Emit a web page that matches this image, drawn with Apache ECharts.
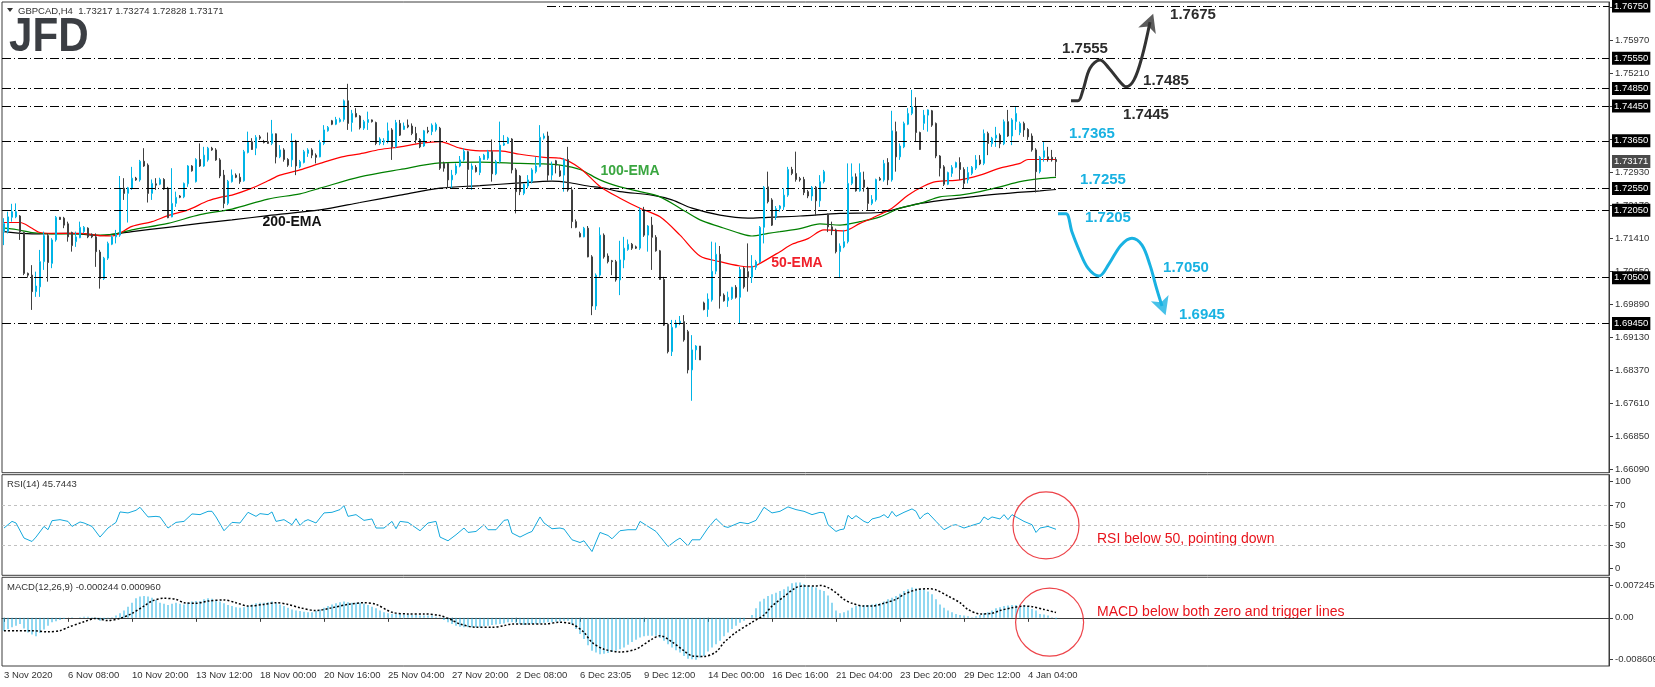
<!DOCTYPE html>
<html><head><meta charset="utf-8">
<script src="https://cdn.jsdelivr.net/npm/echarts/dist/echarts.min.js"></script>
<style>html,body{margin:0;padding:0;background:#fff}#c{width:1655px;height:687px}</style>
</head><body><div id="c"></div>
<script>
// ---- DATA ----
// candles: [open, close, low, high], one per H4 bar
const candles = [
[1.7156,1.7175,1.7125,1.7187],[1.7156,1.7190,1.7152,1.7202],[1.7189,1.7202,1.7179,1.7220],[1.7190,1.7202,1.7187,1.7221],[1.7192,1.7156,1.7137,1.7194],
[1.7154,1.7060,1.7056,1.7156],[1.7060,1.7056,1.7050,1.7062],[1.7056,1.7018,1.6976,1.7079],[1.7018,1.7031,1.7006,1.7064],[1.7029,1.7087,1.7006,1.7114],
[1.7087,1.7147,1.7068,1.7156],[1.7147,1.7085,1.7041,1.7152],[1.7083,1.7137,1.7072,1.7141],[1.7137,1.7189,1.7133,1.7192],[1.7189,1.7184,1.7183,1.7190],
[1.7187,1.7171,1.7164,1.7190],[1.7174,1.7144,1.7133,1.7179],[1.7154,1.7124,1.7110,1.7156],[1.7133,1.7144,1.7121,1.7156],[1.7142,1.7166,1.7141,1.7179],
[1.7156,1.7166,1.7152,1.7169],[1.7164,1.7144,1.7141,1.7166],[1.7150,1.7144,1.7141,1.7152],[1.7144,1.7110,1.7075,1.7152],[1.7109,1.7048,1.7025,1.7114],
[1.7048,1.7095,1.7045,1.7098],[1.7095,1.7129,1.7091,1.7133],[1.7127,1.7144,1.7125,1.7148],[1.7144,1.7150,1.7129,1.7160],[1.7148,1.7256,1.7144,1.7284],
[1.7256,1.7244,1.7229,1.7279],[1.7244,1.7257,1.7177,1.7259],[1.7256,1.7279,1.7252,1.7305],[1.7279,1.7275,1.7273,1.7282],[1.7275,1.7318,1.7271,1.7321],
[1.7318,1.7307,1.7305,1.7348],[1.7309,1.7244,1.7223,1.7313],[1.7244,1.7267,1.7229,1.7276],[1.7266,1.7263,1.7252,1.7279],[1.7265,1.7276,1.7263,1.7280],
[1.7276,1.7254,1.7252,1.7279],[1.7256,1.7188,1.7187,1.7259],[1.7190,1.7221,1.7189,1.7302],[1.7221,1.7235,1.7213,1.7248],[1.7238,1.7235,1.7233,1.7240],
[1.7236,1.7267,1.7233,1.7269],[1.7266,1.7307,1.7259,1.7309],[1.7307,1.7296,1.7294,1.7309],[1.7271,1.7322,1.7269,1.7325],[1.7322,1.7307,1.7305,1.7359],
[1.7307,1.7332,1.7305,1.7351],[1.7321,1.7348,1.7317,1.7351],[1.7348,1.7344,1.7342,1.7351],[1.7344,1.7321,1.7319,1.7348],[1.7321,1.7284,1.7279,1.7325],
[1.7286,1.7221,1.7210,1.7298],[1.7221,1.7272,1.7217,1.7275],[1.7271,1.7286,1.7269,1.7299],[1.7286,1.7281,1.7279,1.7290],[1.7281,1.7271,1.7266,1.7290],
[1.7273,1.7340,1.7271,1.7344],[1.7338,1.7363,1.7336,1.7386],[1.7363,1.7345,1.7344,1.7371],[1.7348,1.7373,1.7332,1.7378],[1.7374,1.7371,1.7367,1.7378],
[1.7363,1.7361,1.7359,1.7367],[1.7363,1.7359,1.7358,1.7384],[1.7359,1.7381,1.7355,1.7413],[1.7381,1.7328,1.7313,1.7382],[1.7328,1.7344,1.7325,1.7355],
[1.7344,1.7322,1.7317,1.7348],[1.7322,1.7309,1.7305,1.7325],[1.7321,1.7364,1.7305,1.7382],[1.7364,1.7307,1.7286,1.7367],[1.7305,1.7317,1.7302,1.7321],
[1.7315,1.7340,1.7313,1.7344],[1.7336,1.7344,1.7328,1.7348],[1.7344,1.7332,1.7325,1.7348],[1.7332,1.7327,1.7313,1.7336],[1.7328,1.7361,1.7327,1.7367],
[1.7359,1.7390,1.7355,1.7401],[1.7388,1.7396,1.7386,1.7399],[1.7411,1.7403,1.7401,1.7413],[1.7403,1.7414,1.7401,1.7420],[1.7409,1.7414,1.7407,1.7418],
[1.7414,1.7457,1.7409,1.7460],[1.7457,1.7405,1.7390,1.7496],[1.7407,1.7428,1.7386,1.7436],[1.7428,1.7420,1.7419,1.7440],[1.7422,1.7395,1.7391,1.7424],
[1.7394,1.7409,1.7390,1.7413],[1.7407,1.7414,1.7390,1.7432],[1.7413,1.7409,1.7407,1.7414],[1.7407,1.7359,1.7355,1.7409],[1.7359,1.7369,1.7355,1.7373],
[1.7362,1.7365,1.7355,1.7371],[1.7363,1.7388,1.7359,1.7407],[1.7390,1.7351,1.7321,1.7394],[1.7351,1.7407,1.7348,1.7413],[1.7405,1.7378,1.7376,1.7413],
[1.7391,1.7399,1.7390,1.7407],[1.7401,1.7397,1.7394,1.7414],[1.7399,1.7382,1.7378,1.7405],[1.7382,1.7367,1.7359,1.7397],[1.7368,1.7351,1.7348,1.7371],
[1.7353,1.7388,1.7351,1.7390],[1.7388,1.7386,1.7382,1.7397],[1.7386,1.7401,1.7378,1.7405],[1.7390,1.7403,1.7386,1.7407],[1.7394,1.7302,1.7298,1.7397],
[1.7313,1.7302,1.7294,1.7317],[1.7313,1.7275,1.7256,1.7315],[1.7275,1.7286,1.7256,1.7298],[1.7290,1.7307,1.7286,1.7313],[1.7307,1.7321,1.7304,1.7330],
[1.7321,1.7341,1.7317,1.7348],[1.7340,1.7299,1.7256,1.7342],[1.7299,1.7307,1.7252,1.7313],[1.7304,1.7294,1.7292,1.7309],[1.7292,1.7325,1.7286,1.7330],
[1.7322,1.7332,1.7321,1.7335],[1.7325,1.7340,1.7321,1.7344],[1.7340,1.7289,1.7271,1.7368],[1.7289,1.7317,1.7286,1.7321],[1.7317,1.7355,1.7313,1.7409],
[1.7355,1.7359,1.7353,1.7378],[1.7359,1.7371,1.7358,1.7374],[1.7369,1.7298,1.7290,1.7371],[1.7298,1.7248,1.7198,1.7302],[1.7284,1.7248,1.7240,1.7286],
[1.7244,1.7265,1.7240,1.7267],[1.7261,1.7275,1.7256,1.7286],[1.7271,1.7298,1.7267,1.7302],[1.7294,1.7307,1.7290,1.7328],[1.7306,1.7373,1.7304,1.7401],
[1.7371,1.7376,1.7368,1.7382],[1.7376,1.7286,1.7273,1.7386],[1.7286,1.7309,1.7275,1.7317],[1.7319,1.7309,1.7290,1.7321],[1.7296,1.7284,1.7282,1.7309],
[1.7286,1.7322,1.7248,1.7325],[1.7322,1.7252,1.7248,1.7351],[1.7252,1.7179,1.7164,1.7259],[1.7179,1.7166,1.7164,1.7184],[1.7152,1.7144,1.7143,1.7156],
[1.7144,1.7164,1.7143,1.7167],[1.7164,1.7098,1.7097,1.7169],[1.7098,1.6985,1.6964,1.7102],[1.6985,1.7056,1.6976,1.7060],[1.7056,1.7148,1.7052,1.7166],
[1.7148,1.7098,1.7094,1.7152],[1.7100,1.7087,1.7083,1.7106],[1.7089,1.7087,1.7056,1.7091],[1.7087,1.7045,1.7041,1.7091],[1.7045,1.7091,1.7010,1.7135],
[1.7091,1.7118,1.7072,1.7144],[1.7115,1.7127,1.7112,1.7138],[1.7127,1.7118,1.7114,1.7130],[1.7121,1.7118,1.7116,1.7124],[1.7118,1.7206,1.7114,1.7212],
[1.7206,1.7148,1.7144,1.7213],[1.7148,1.7169,1.7110,1.7171],[1.7171,1.7143,1.7068,1.7190],[1.7143,1.7112,1.7110,1.7148],[1.7112,1.7046,1.7045,1.7114],
[1.7046,1.6941,1.6939,1.7052],[1.6943,1.6880,1.6876,1.6946],[1.6880,1.6936,1.6870,1.6953],[1.6936,1.6946,1.6934,1.6953],[1.6945,1.6950,1.6941,1.6962],
[1.6949,1.6907,1.6903,1.6964],[1.6926,1.6838,1.6830,1.6930],[1.6838,1.6884,1.6767,1.6918],[1.6884,1.6893,1.6861,1.6895],[1.6893,1.6861,1.6861,1.6893],
[1.6992,1.6977,1.6975,1.6995],[1.6977,1.7001,1.6960,1.7014],[1.6999,1.7065,1.6995,1.7133],[1.7065,1.7104,1.7058,1.7131],[1.7104,1.7008,1.6979,1.7123],
[1.7010,1.6997,1.6995,1.7014],[1.6997,1.7005,1.6983,1.7018],[1.7002,1.7028,1.6999,1.7029],[1.7028,1.7005,1.7002,1.7033],[1.7005,1.7069,1.6945,1.7075],
[1.7072,1.7029,1.7025,1.7075],[1.7064,1.7051,1.7018,1.7129],[1.7051,1.7077,1.7038,1.7102],[1.7074,1.7087,1.7068,1.7091],[1.7087,1.7166,1.7083,1.7169],
[1.7166,1.7258,1.7129,1.7261],[1.7259,1.7225,1.7221,1.7294],[1.7229,1.7171,1.7169,1.7233],[1.7190,1.7209,1.7183,1.7215],[1.7209,1.7215,1.7202,1.7217],
[1.7213,1.7240,1.7206,1.7256],[1.7240,1.7299,1.7236,1.7305],[1.7299,1.7290,1.7286,1.7305],[1.7290,1.7276,1.7271,1.7340],[1.7278,1.7275,1.7271,1.7282],
[1.7276,1.7246,1.7240,1.7282],[1.7248,1.7238,1.7233,1.7252],[1.7238,1.7258,1.7227,1.7261],[1.7258,1.7227,1.7192,1.7261],[1.7227,1.7271,1.7213,1.7286],
[1.7271,1.7294,1.7267,1.7298],[1.7196,1.7167,1.7155,1.7198],[1.7167,1.7158,1.7148,1.7179],[1.7160,1.7110,1.7106,1.7163],[1.7110,1.7123,1.7049,1.7129],
[1.7121,1.7133,1.7118,1.7160],[1.7133,1.7267,1.7129,1.7313],[1.7267,1.7282,1.7263,1.7313],[1.7282,1.7250,1.7248,1.7290],[1.7250,1.7292,1.7248,1.7313],
[1.7275,1.7258,1.7248,1.7294],[1.7256,1.7221,1.7206,1.7259],[1.7221,1.7230,1.7217,1.7240],[1.7229,1.7276,1.7225,1.7278],[1.7278,1.7275,1.7273,1.7282],
[1.7275,1.7313,1.7271,1.7321],[1.7315,1.7275,1.7263,1.7325],[1.7275,1.7388,1.7271,1.7434],[1.7386,1.7328,1.7294,1.7409],[1.7328,1.7353,1.7321,1.7359],
[1.7351,1.7405,1.7348,1.7409],[1.7403,1.7428,1.7401,1.7440],[1.7428,1.7443,1.7424,1.7482],[1.7443,1.7384,1.7363,1.7465],[1.7384,1.7345,1.7344,1.7386],
[1.7405,1.7424,1.7390,1.7436],[1.7424,1.7436,1.7386,1.7437],[1.7434,1.7401,1.7397,1.7436],[1.7405,1.7330,1.7325,1.7407],[1.7330,1.7302,1.7283,1.7332],
[1.7305,1.7265,1.7261,1.7309],[1.7265,1.7292,1.7263,1.7294],[1.7290,1.7304,1.7282,1.7309],[1.7304,1.7315,1.7302,1.7317],[1.7315,1.7299,1.7275,1.7327],
[1.7299,1.7267,1.7256,1.7304],[1.7275,1.7292,1.7267,1.7305],[1.7290,1.7304,1.7286,1.7307],[1.7302,1.7321,1.7298,1.7332],[1.7321,1.7312,1.7309,1.7332],
[1.7313,1.7382,1.7309,1.7391],[1.7382,1.7359,1.7332,1.7386],[1.7358,1.7371,1.7351,1.7374],[1.7371,1.7378,1.7351,1.7397],[1.7378,1.7358,1.7348,1.7382],
[1.7358,1.7409,1.7355,1.7414],[1.7409,1.7376,1.7374,1.7436],[1.7376,1.7413,1.7355,1.7417],[1.7409,1.7428,1.7390,1.7445],[1.7384,1.7405,1.7378,1.7409],
[1.7405,1.7390,1.7374,1.7409],[1.7391,1.7374,1.7367,1.7394],[1.7376,1.7344,1.7340,1.7382],[1.7344,1.7294,1.7246,1.7348],[1.7294,1.7327,1.7290,1.7330],
[1.7327,1.7342,1.7317,1.7363],[1.7328,1.7322,1.7317,1.7351],[1.7327,1.7321,1.7317,1.7344],[1.73217,1.73171,1.72828,1.73274]
];
// EMA curves read at bar positions: [bar, value]
const ema50 = [[1,1.7177],[5,1.7177],[8,1.7164],[10,1.7154],[15,1.7152],[20,1.7152],[25,1.7147],[28,1.7146],[33,1.7168],[38,1.7179],[42,1.7193],[47,1.7206],[52,1.7227],[55,1.7235],[58,1.7240],[63,1.7256],[67,1.7273],[70,1.7286],[75,1.7298],[80,1.7313],[85,1.7327],[90,1.7335],[95,1.7345],[100,1.7351],[105,1.7359],[110,1.7363],[115,1.7348],[120,1.7342],[125,1.7342],[130,1.7334],[136,1.7327],[140,1.7325],[145,1.7302],[150,1.7260],[155,1.7233],[160,1.7210],[165,1.7190],[170,1.7148],[175,1.7100],[180,1.7087],[185,1.7077],[188,1.7075],[190,1.7083],[195,1.7110],[198,1.7127],[202,1.7140],[206,1.7160],[211,1.7158],[215,1.7175],[218,1.7187],[223,1.7210],[227,1.7240],[231,1.7261],[234,1.7271],[240,1.7275],[245,1.7286],[250,1.7302],[255,1.7313],[257,1.7322],[264,1.7322]];
const ema100 = [[1,1.7164],[4,1.7161],[8,1.7154],[13,1.7151],[21,1.7151],[25,1.7148],[29,1.7151],[33,1.7160],[42,1.7175],[50,1.7195],[58,1.7208],[67,1.7231],[75,1.7243],[80,1.7256],[90,1.7282],[100,1.7299],[110,1.7314],[120,1.7316],[130,1.7313],[135,1.7312],[140,1.7309],[145,1.7299],[150,1.7275],[155,1.7259],[160,1.7248],[165,1.7236],[170,1.7210],[175,1.7183],[180,1.7167],[185,1.7152],[188,1.7146],[192,1.7152],[195,1.7156],[200,1.7163],[205,1.7174],[210,1.7171],[215,1.7179],[220,1.7190],[225,1.7210],[230,1.7221],[235,1.7236],[240,1.7240],[245,1.7248],[250,1.7259],[255,1.7271],[260,1.7278],[264,1.7281]];
const ema200 = [[1,1.7156],[8,1.7151],[17,1.7152],[25,1.7147],[29,1.7151],[33,1.7156],[42,1.7166],[50,1.7175],[58,1.7183],[67,1.7193],[80,1.7206],[90,1.7223],[100,1.7240],[110,1.7256],[120,1.7262],[130,1.7268],[138,1.7272],[142,1.7269],[147,1.7261],[151,1.7256],[155,1.7248],[163,1.7240],[168,1.7229],[173,1.7210],[180,1.7194],[187,1.7187],[192,1.7189],[200,1.7192],[210,1.7198],[220,1.7200],[225,1.7210],[230,1.7221],[240,1.7233],[250,1.7243],[260,1.7250],[264,1.7253]];
// RSI(14) read at bar positions
const rsi = [[1,47],[3,53.6],[4,52],[6,37],[8,33.6],[9,38],[11,48.6],[12,45.3],[13,54.3],[15,55.3],[17,53.6],[18,48.6],[20,53],[21,52],[23,48.6],[25,38],[27,47],[29,52.6],[30,63],[32,62],[34,64.6],[35,67.6],[37,58],[39,58.6],[40,58],[42,47],[44,52.6],[46,53.6],[48,61],[50,60.3],[52,63.6],[53,63.6],[54,58],[56,44.3],[58,52.6],[60,52],[62,62.6],[64,58.6],[65,61.3],[67,60.3],[68,63],[69,53.6],[71,55.3],[73,50.3],[74,56.3],[75,49.6],[76,53.6],[77,55.3],[79,52],[81,62],[83,62.6],[85,65.3],[86,69.3],[87,58.6],[89,60.3],[91,54.6],[93,56],[94,47],[96,47],[98,53.6],[99,46.3],[100,53.6],[102,52.6],[105,44.3],[107,52],[109,53.6],[110,38],[112,34.3],[114,40.3],[116,47],[117,42.6],[119,43.6],[121,50.3],[122,45.3],[124,45.3],[126,54.6],[127,55.3],[128,42],[130,38],[132,42],[133,43.6],[135,58],[136,52],[138,46.3],[140,47],[141,46],[143,35.3],[145,32.6],[146,34.3],[148,23.6],[150,42.6],[152,39.6],[153,36.3],[155,44.3],[157,45.3],[159,45.3],[160,53.6],[162,48.6],[164,43.6],[166,33.6],[167,28.6],[169,34.6],[170,37],[172,29.3],[173,35.3],[175,35.3],[177,47],[179,56.3],[181,48.6],[182,47.6],[185,52.6],[187,51.3],[189,54.6],[191,67.6],[193,62],[195,63.6],[197,68],[199,65.3],[201,63.6],[203,60.3],[205,62.6],[206,62],[207,50.3],[209,43.6],[210,45.3],[211,46],[212,59.6],[213,56],[214,59.3],[216,53.6],[217,52],[218,56],[220,58],[221,60.3],[222,57],[223,63.6],[224,58.6],[226,62.6],[228,66],[229,63.6],[230,56],[231,60.3],[232,62],[234,53.6],[236,45.3],[238,49.6],[239,50.3],[241,47],[243,49.6],[245,52],[246,58],[247,55.3],[248,58],[250,56],[251,60.3],[252,55.3],[253,60.3],[254,58],[256,53.6],[258,50.3],[259,42.6],[260,47],[262,48.6],[264,45.7443]];
// MACD main (histogram), one per bar
const macdHist = [
-0.0023,-0.0020,-0.0017,-0.0014,-0.0011,-0.0019,-0.0026,-0.0030,-0.0033,-0.0027,
-0.0021,-0.0014,-0.0008,-0.0006,-0.0004,-0.0002,0.0000,0.0001,0.0000,0.0001,
0.0002,0.0002,0.0001,-0.0002,-0.0005,-0.0003,-0.0001,0.0001,0.0004,0.0008,
0.0013,0.0020,0.0027,0.0035,0.0038,0.0039,0.0038,0.0036,0.0032,0.0027,
0.0025,0.0023,0.0025,0.0027,0.0025,0.0024,0.0027,0.0029,0.0030,0.0030,
0.0033,0.0035,0.0034,0.0032,0.0029,0.0026,0.0023,0.0021,0.0019,0.0018,
0.0019,0.0021,0.0024,0.0026,0.0027,0.0027,0.0028,0.0029,0.0027,0.0024,
0.0021,0.0018,0.0015,0.0013,0.0012,0.0011,0.0010,0.0010,0.0012,0.0015,
0.0018,0.0021,0.0024,0.0026,0.0028,0.0029,0.0028,0.0027,0.0027,0.0027,
0.0025,0.0023,0.0020,0.0017,0.0013,0.0010,0.0008,0.0007,0.0007,0.0007,
0.0006,0.0006,0.0005,0.0005,0.0004,0.0004,0.0004,0.0004,0.0002,0.0001,
-0.0004,-0.0008,-0.0011,-0.0014,-0.0016,-0.0017,-0.0017,-0.0017,-0.0017,-0.0017,
-0.0015,-0.0014,-0.0013,-0.0012,-0.0011,-0.0010,-0.0008,-0.0008,-0.0009,-0.0011,
-0.0013,-0.0012,-0.0011,-0.0011,-0.0010,-0.0009,-0.0008,-0.0008,-0.0007,-0.0006,
-0.0005,-0.0005,-0.0012,-0.0020,-0.0029,-0.0038,-0.0049,-0.0059,-0.0062,-0.0065,
-0.0064,-0.0063,-0.0061,-0.0059,-0.0056,-0.0053,-0.0048,-0.0043,-0.0039,-0.0035,
-0.0033,-0.0032,-0.0032,-0.0032,-0.0036,-0.0041,-0.0047,-0.0053,-0.0058,-0.0062,
-0.0068,-0.0073,-0.0074,-0.0075,-0.0071,-0.0068,-0.0060,-0.0053,-0.0047,-0.0041,
-0.0033,-0.0026,-0.0020,-0.0014,-0.0009,-0.0005,0.0000,0.0005,0.0017,0.0029,
0.0034,0.0039,0.0042,0.0045,0.0048,0.0051,0.0056,0.0062,0.0063,0.0063,
0.0060,0.0058,0.0056,0.0054,0.0050,0.0048,0.0040,0.0027,0.0013,0.0008,
0.0010,0.0013,0.0018,0.0021,0.0022,0.0023,0.0023,0.0024,0.0025,0.0026,
0.0029,0.0033,0.0036,0.0039,0.0043,0.0048,0.0051,0.0054,0.0053,0.0052,
0.0051,0.0047,0.0042,0.0033,0.0024,0.0018,0.0013,0.0010,0.0007,0.0005,
0.0004,0.0003,0.0001,0.0003,0.0005,0.0008,0.0010,0.0013,0.0017,0.0019,
0.0021,0.0022,0.0023,0.0023,0.0024,0.0023,0.0021,0.0016,0.0013,0.0007,
0.0006,0.0004,0.0001,-0.000244
];
// MACD signal line read at bar positions
const macdSignal = [[1,-0.0023],[4,-0.0023],[8,-0.0023],[12,-0.0025],[15,-0.0023],[17,-0.0017],[21,-0.0007],[24,-0.0001],[27,-0.0005],[30,-0.0001],[33,0.0008],[36,0.0021],[38,0.0030],[41,0.0035],[44,0.0033],[46,0.0027],[49,0.0026],[52,0.0030],[56,0.0032],[59,0.0027],[62,0.0021],[66,0.0024],[69,0.0027],[72,0.0024],[75,0.0018],[79,0.0013],[83,0.0018],[87,0.0024],[91,0.0027],[94,0.0024],[98,0.0010],[102,0.0007],[106,0.0007],[110,0.0004],[113,-0.0004],[115,-0.0011],[119,-0.0017],[123,-0.0017],[126,-0.0014],[128,-0.0011],[132,-0.0011],[136,-0.0011],[140,-0.0008],[143,-0.0011],[146,-0.0026],[148,-0.0044],[151,-0.0056],[155,-0.0061],[159,-0.0056],[163,-0.0038],[165,-0.0032],[168,-0.0043],[171,-0.0059],[173,-0.0068],[176,-0.0069],[179,-0.0061],[181,-0.0044],[184,-0.0026],[188,-0.0008],[191,0.0005],[193,0.0021],[196,0.0038],[199,0.0054],[201,0.0057],[204,0.0057],[205,0.0058],[207,0.0054],[209,0.0045],[211,0.0033],[213,0.0026],[216,0.0021],[218,0.0021],[221,0.0026],[224,0.0033],[226,0.0042],[229,0.0050],[232,0.0052],[234,0.0050],[237,0.0039],[240,0.0027],[242,0.0015],[245,0.0007],[248,0.0008],[250,0.0013],[253,0.0018],[256,0.0021],[258,0.0020],[261,0.0015],[264,0.00096]];
// horizontal levels and scenario paths
const levels = [1.7555,1.7485,1.7445,1.7365,1.7255,1.7205,1.7050,1.6945];
const topLevel = 1.7675;           // drawn from bar topLevelStart to the right edge
const topLevelStart = 136.75;
const lastPrice = 1.73171;
const bullPath = [[267.75,1.7457],[269.5,1.7457],[270.75,1.7482],[272.5,1.7532],[275,1.7551],[277.25,1.7532],[280.25,1.7498],[281.5,1.7489],[283.5,1.7505],[285.5,1.7558],[287.5,1.7638]];
const bullTip = [288.3,1.7657];
const bearPath = [[264.5,1.7197],[266.5,1.7197],[268,1.7155],[269.75,1.7114],[272,1.7072],[274.75,1.7054],[277.25,1.7082],[280.25,1.7125],[283,1.7141],[285.5,1.7125],[287.5,1.7079],[289.25,1.7022],[290.5,1.6985]];
const bearTip = [291.4,1.6964];
const bullLabels = ['1.7675','1.7555','1.7485','1.7445'];
const bearLabels = ['1.7365','1.7255','1.7205','1.7050','1.6945'];
// axis ticks
const priceTicks = [1.6609,1.6685,1.6761,1.6837,1.6913,1.6989,1.7065,1.7141,1.7217,1.7293,1.7369,1.7445,1.7521,1.7597,1.7673];
const dateLabels = ['3 Nov 2020','6 Nov 08:00','10 Nov 20:00','13 Nov 12:00','18 Nov 00:00','20 Nov 16:00','25 Nov 04:00','27 Nov 20:00','2 Dec 08:00','6 Dec 23:05','9 Dec 12:00','14 Dec 00:00','16 Dec 16:00','21 Dec 04:00','23 Dec 20:00','29 Dec 12:00','4 Jan 04:00'];
const dateLabelBars = [1,17,33,49,65,81,97,113,129,145,161,177,193,209,225,241,257];
const rsiLevels = [30,50,70];
const rsiTickLabels = ['0','30','50','70','100'];
const macdTickLabels = ['-0.008609','0.00','0.007245'];

// ---- CHART ----
const FONT = '"Liberation Sans", Arial, sans-serif';
const UP = '#00b4e6', DN = '#404040';
const chart = echarts.init(document.getElementById('c'), null, {renderer:'canvas'});
const X_MIN = 0.5, X_MAX = 402.25;
const gridCommon = {left:2, right:46, show:true, borderColor:'#3c3c3c', borderWidth:1, containLabel:false, outerBoundsMode:'none'};
const rsiTickPos = [7,30,50,70,93.6];
const macdTickPos = [-0.00741,0,0.00587];
const levelLabel = {show:true,position:'end',distance:3,formatter:p=>Number(p.value).toFixed(5),backgroundColor:'#000',color:'#fff',padding:[2,2,1,2],fontSize:9.5,fontFamily:FONT};

const option = {
  animation:false,
  textStyle:{fontFamily:FONT},
  grid:[
    Object.assign({top:2, height:470.7}, gridCommon),
    Object.assign({top:474.7, height:100.6}, gridCommon),
    Object.assign({top:577.3, height:88.7}, gridCommon)
  ],
  xAxis:[
    {gridIndex:0,type:'value',min:X_MIN,max:X_MAX,show:false},
    {gridIndex:1,type:'value',min:X_MIN,max:X_MAX,show:false},
    {gridIndex:2,type:'value',min:X_MIN,max:X_MAX,
      axisLine:{show:true,lineStyle:{color:'#3c3c3c'}},
      axisTick:{show:true,customValues:dateLabelBars,length:4,lineStyle:{color:'#3c3c3c'}},
      axisLabel:{customValues:dateLabelBars,formatter:v=>dateLabels[dateLabelBars.indexOf(Math.round(v))]||'',align:'left',margin:4,fontSize:9.5,color:'#333'},
      splitLine:{show:false}}
  ],
  yAxis:[
    {gridIndex:0,type:'value',position:'right',min:1.66016,max:1.76842,scale:true,
      axisLine:{show:true,lineStyle:{color:'#3c3c3c'}},
      axisTick:{show:true,customValues:priceTicks,length:4,lineStyle:{color:'#3c3c3c'}},
      axisLabel:{customValues:priceTicks,formatter:v=>v.toFixed(5),fontSize:9.5,color:'#333',margin:6},
      splitLine:{show:false}},
    {gridIndex:1,type:'value',position:'right',min:0,max:100,
      axisLine:{show:true,lineStyle:{color:'#3c3c3c'}},
      axisTick:{show:true,customValues:rsiTickPos,length:4,lineStyle:{color:'#3c3c3c'}},
      axisLabel:{customValues:rsiTickPos,formatter:v=>rsiTickLabels[rsiTickPos.indexOf(v)],fontSize:9.5,color:'#333',margin:6},
      splitLine:{show:false}},
    {gridIndex:2,type:'value',position:'right',min:-0.008609,max:0.007245,
      axisLine:{show:true,lineStyle:{color:'#3c3c3c'}},
      axisTick:{show:true,customValues:macdTickPos,length:4,lineStyle:{color:'#3c3c3c'}},
      axisLabel:{customValues:macdTickPos,formatter:v=>macdTickLabels[macdTickPos.indexOf(v)],fontSize:9.5,color:'#333',margin:6},
      splitLine:{show:false}}
  ],
  series:[
    {type:'line',name:'200-EMA',xAxisIndex:0,yAxisIndex:0,data:ema200,smooth:0.3,showSymbol:false,symbol:'none',lineStyle:{color:'#000',width:1.2},z:3},
    {type:'line',name:'100-EMA',xAxisIndex:0,yAxisIndex:0,data:ema100,smooth:0.3,showSymbol:false,symbol:'none',lineStyle:{color:'#008000',width:1.2},z:3},
    {type:'line',name:'50-EMA',xAxisIndex:0,yAxisIndex:0,data:ema50,smooth:0.3,showSymbol:false,symbol:'none',lineStyle:{color:'#ff0000',width:1.2},z:3},
    {type:'candlestick',xAxisIndex:0,yAxisIndex:0,
      data:candles.map((c,i)=>[i+1,c[0],c[1],c[2],c[3]]),
      encode:{x:0,y:[1,2,3,4]},
      barWidth:2,
      itemStyle:{color:'#ffffff',color0:DN,borderColor:UP,borderColor0:DN,borderWidth:1},
      z:4,
      markLine:{silent:true,symbol:['none','none'],animation:false,precision:5,
        lineStyle:{color:'#000',width:1,type:[9,3,1,3]},
        label:levelLabel,
        data:levels.map(v=>({yAxis:v}))
          .concat([[{coord:[topLevelStart,topLevel],label:{formatter:topLevel.toFixed(5)}},{coord:[X_MAX,topLevel]}]])
          .concat([{yAxis:lastPrice,lineStyle:{color:'rgba(0,0,0,0)',width:0},label:{backgroundColor:'#4a4a4a',color:'#fff'}}])
      }},
    {type:'line',xAxisIndex:0,yAxisIndex:0,data:bullPath,smooth:0.35,showSymbol:false,symbol:'none',lineStyle:{color:'#333',width:3},z:6},
    {type:'scatter',xAxisIndex:0,yAxisIndex:0,data:[bullTip],symbol:'arrow',symbolSize:[14,18],symbolRotate:-20,itemStyle:{color:'#333'},z:6},
    {type:'line',xAxisIndex:0,yAxisIndex:0,data:bearPath,smooth:0.35,showSymbol:false,symbol:'none',lineStyle:{color:'#19b2e2',width:3},z:6},
    {type:'scatter',xAxisIndex:0,yAxisIndex:0,data:[bearTip],symbol:'arrow',symbolSize:[14,18],symbolRotate:-161,itemStyle:{color:'#19b2e2'},z:6},
    {type:'line',name:'RSI',xAxisIndex:1,yAxisIndex:1,data:rsi,showSymbol:false,symbol:'none',lineStyle:{color:'#14a8dc',width:1},z:3,
      markLine:{silent:true,symbol:['none','none'],animation:false,precision:2,label:{show:false},
        lineStyle:{color:'#c0c0c0',width:1,type:[3,3]},data:rsiLevels.map(v=>({yAxis:v}))}},
    {type:'scatter',xAxisIndex:1,yAxisIndex:1,data:[[261.5,49.6]],symbol:'circle',symbolSize:[66,67],
      itemStyle:{color:'rgba(0,0,0,0)',borderColor:'#e8141c',borderWidth:1.2},z:5},
    {type:'bar',name:'MACD',xAxisIndex:2,yAxisIndex:2,data:macdHist.map((v,i)=>[i+1,v]),barWidth:1,itemStyle:{color:'#22b2e3'},z:2},
    {type:'line',name:'Signal',xAxisIndex:2,yAxisIndex:2,data:macdSignal,smooth:0.3,showSymbol:false,symbol:'none',lineStyle:{color:'#000',width:1.5,type:[2,2]},z:3},
    {type:'scatter',xAxisIndex:2,yAxisIndex:2,data:[[262.4,-0.00078]],symbol:'circle',symbolSize:[68,68],
      itemStyle:{color:'rgba(0,0,0,0)',borderColor:'#e8141c',borderWidth:1.2},z:5}
  ],
  graphic:[
    {type:'polygon',shape:{points:[[7,8],[13,8],[10,12]]},style:{fill:'#333'}},
    {type:'text',x:18,y:11,style:{text:'GBPCAD,H4  1.73217 1.73274 1.72828 1.73171',fill:'#333',font:'9.5px '+FONT,verticalAlign:'middle'}},
    {type:'text',x:9,y:37,scaleX:0.86,style:{text:'JFD',fill:'#3b3e43',font:'bold 49px '+FONT,verticalAlign:'middle'}},
    {type:'text',x:7,y:484,style:{text:'RSI(14) 45.7443',fill:'#333',font:'9.5px '+FONT,verticalAlign:'middle'}},
    {type:'text',x:7,y:587,style:{text:'MACD(12,26,9) -0.000244 0.000960',fill:'#333',font:'9.5px '+FONT,verticalAlign:'middle'}},
    {type:'text',x:292,y:222,style:{text:'200-EMA',fill:'#111',font:'bold 14px '+FONT,align:'center',verticalAlign:'middle'}},
    {type:'text',x:630,y:171,style:{text:'100-EMA',fill:'#3aa640',font:'bold 14px '+FONT,align:'center',verticalAlign:'middle'}},
    {type:'text',x:797,y:263,style:{text:'50-EMA',fill:'#f0202a',font:'bold 14px '+FONT,align:'center',verticalAlign:'middle'}},
    {type:'text',x:1193,y:15,style:{text:bullLabels[0],fill:'#2b2b2b',font:'bold 15px '+FONT,align:'center',verticalAlign:'middle'}},
    {type:'text',x:1085,y:49,style:{text:bullLabels[1],fill:'#2b2b2b',font:'bold 15px '+FONT,align:'center',verticalAlign:'middle'}},
    {type:'text',x:1166,y:81,style:{text:bullLabels[2],fill:'#2b2b2b',font:'bold 15px '+FONT,align:'center',verticalAlign:'middle'}},
    {type:'text',x:1146,y:115,style:{text:bullLabels[3],fill:'#2b2b2b',font:'bold 15px '+FONT,align:'center',verticalAlign:'middle'}},
    {type:'text',x:1092,y:134,style:{text:bearLabels[0],fill:'#19b2e2',font:'bold 15px '+FONT,align:'center',verticalAlign:'middle'}},
    {type:'text',x:1103,y:180,style:{text:bearLabels[1],fill:'#19b2e2',font:'bold 15px '+FONT,align:'center',verticalAlign:'middle'}},
    {type:'text',x:1108,y:218,style:{text:bearLabels[2],fill:'#19b2e2',font:'bold 15px '+FONT,align:'center',verticalAlign:'middle'}},
    {type:'text',x:1186,y:268,style:{text:bearLabels[3],fill:'#19b2e2',font:'bold 15px '+FONT,align:'center',verticalAlign:'middle'}},
    {type:'text',x:1202,y:315,style:{text:bearLabels[4],fill:'#19b2e2',font:'bold 15px '+FONT,align:'center',verticalAlign:'middle'}},
    {type:'text',x:1097,y:539,style:{text:'RSI below 50, pointing down',fill:'#e8141c',font:'14px '+FONT,verticalAlign:'middle'}},
    {type:'text',x:1097,y:612,style:{text:'MACD below both zero and trigger lines',fill:'#e8141c',font:'14px '+FONT,verticalAlign:'middle'}}
  ]
};
chart.setOption(option);
</script>
</body></html>
